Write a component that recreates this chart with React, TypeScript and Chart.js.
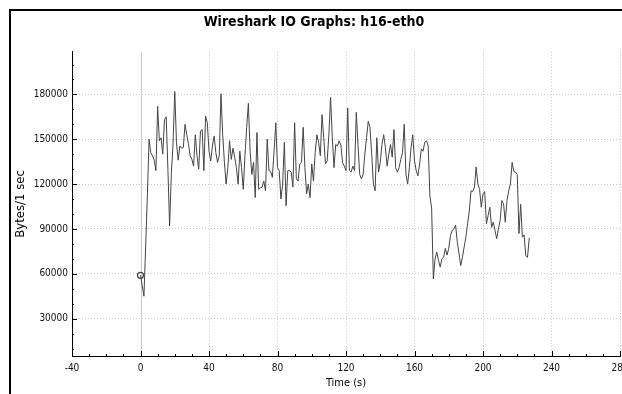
import React, { useEffect, useRef } from "react";
import { Chart, registerables } from "chart.js";

Chart.register(...registerables);

const chartTitle = "Wireshark IO Graphs: h16-eth0";
const xAxisTitle = "Time (s)";
const yAxisTitle = "Bytes/1 sec";
const xTickValues = [-40, 0, 40, 80, 120, 160, 200, 240, 280];
const yTickValues = [30000, 60000, 90000, 120000, 150000, 180000];

// Bytes per 1-second interval, starting at t = 0 s
const bytesPerSecond = [
  59000, 52000, 45000, 78000, 112000, 150000, 141000, 139000, 136000, 129000,
  172000, 149000, 151000, 140000, 163000, 165000, 130000, 92000, 127000, 147000,
  182000, 148000, 136000, 145500, 144000, 144500, 160000, 153000, 147000, 139000,
  136500, 132000, 153000, 139000, 130000, 155500, 156500, 129000, 165500, 161000,
  142000, 135500, 145500, 152000, 141000, 134500, 139000, 180500, 153000, 134500,
  120000, 131000, 149000, 136500, 144000, 138000, 131000, 120000, 142000, 131000,
  116500, 139000, 158000, 174000, 142000, 126500, 134500, 111000, 154500, 116500,
  117500, 118000, 122000, 115500, 150000, 129000, 128500, 124500, 142000, 161000,
  131000, 129000, 110000, 120000, 148000, 105500, 129000, 129000, 128000, 118000,
  161000, 123500, 122000, 133500, 134500, 158000, 131000, 113500, 120000, 111000,
  133500, 122000, 141000, 153000, 148000, 139000, 166500, 151000, 133500, 135500,
  153000, 178000, 151000, 131000, 146500, 145500, 149000, 146000, 134500, 132000,
  129000, 171000, 129000, 128000, 132000, 129000, 168000, 146500, 126500, 123500,
  126500, 140000, 151000, 162000, 158000, 140000, 120000, 115500, 151000, 128000,
  134500, 146500, 153000, 144500, 132000, 140000, 146500, 138000, 156500, 131000,
  128000, 131000, 136500, 141000, 160000, 126500, 120000, 131000, 144500, 153000,
  135500, 129000, 125500, 133500, 143500, 142000, 148000, 149000, 145500, 112000,
  104000, 56500, 70000, 74500, 69000, 64500, 70000, 71000, 77000, 72500,
  77000, 85500, 89000, 90000, 92500, 81000, 73500, 65500, 71000, 78000,
  84500, 93500, 102000, 115500, 115000, 118000, 131500, 120000, 116500, 104500,
  113500, 115000, 93500, 99000, 104500, 91000, 94500, 89000, 83500, 90000,
  95500, 109000, 107000, 94500, 109000, 115500, 120000, 134500, 128500, 128000,
  126500, 87000, 106500, 84500, 86000, 72000, 71000, 84000,
];

const X_MIN = -40;
const X_MAX = 280;
const Y_MIN = 5000;
const Y_MAX = 208500;
const X_MINOR_STEP = 10;
const Y_MINOR_STEP = 10000;

const FONT = "'DejaVu Sans Condensed', 'DejaVu Sans', sans-serif";

const axisDecor = {
  id: "axisDecor",
  beforeDatasetsDraw(chart: any) {
    const { ctx, chartArea } = chart;
    const xs = chart.scales.x;
    ctx.save();
    ctx.strokeStyle = "rgb(200,200,200)";
    ctx.lineWidth = 1;
    const px = Math.round(xs.getPixelForValue(0)) + 0.5;
    ctx.beginPath();
    ctx.moveTo(px, chartArea.top);
    ctx.lineTo(px, chartArea.bottom);
    ctx.stroke();
    ctx.restore();
  },
  afterDraw(chart: any) {
    const { ctx, chartArea } = chart;
    const xs = chart.scales.x;
    const ys = chart.scales.y;
    ctx.save();
    ctx.strokeStyle = "#000";
    ctx.lineWidth = 1;
    ctx.beginPath();
    for (let v = X_MIN; v <= X_MAX; v += X_MINOR_STEP) {
      const p = Math.round(xs.getPixelForValue(v)) + 0.5;
      const len = xTickValues.includes(v) ? 5 : 2;
      ctx.moveTo(p, chartArea.bottom);
      ctx.lineTo(p, chartArea.bottom - len);
    }
    for (let v = Y_MINOR_STEP; v <= Y_MAX; v += Y_MINOR_STEP) {
      if (v < Y_MIN) continue;
      const p = Math.round(ys.getPixelForValue(v)) + 0.5;
      const len = yTickValues.includes(v) ? 5 : 2;
      ctx.moveTo(chartArea.left, p);
      ctx.lineTo(chartArea.left + len, p);
    }
    ctx.stroke();
    ctx.restore();
  },
};

export default function App() {
  const canvasRef = useRef<HTMLCanvasElement | null>(null);

  useEffect(() => {
    const canvas = canvasRef.current;
    if (!canvas) return;
    const points = bytesPerSecond.map((v, t) => ({ x: t, y: v }));
    const chart = new Chart(canvas, {
      type: "line",
      data: {
        datasets: [
          {
            data: points,
            borderColor: "#444",
            borderWidth: 1,
            tension: 0,
            fill: false,
            pointRadius: (c: any) => (c.dataIndex === 0 ? 3 : 0),
            pointBorderColor: "#444",
            pointBackgroundColor: "rgba(255,255,255,0)",
            pointBorderWidth: 1.3,
          },
        ],
      },
      options: {
        animation: false,
        responsive: false,
        devicePixelRatio: 1,
        layout: { padding: { left: 8, right: 40, top: 0, bottom: 0 } },
        plugins: {
          legend: { display: false },
          tooltip: { enabled: false },
          title: {
            display: true,
            text: chartTitle,
            color: "#000",
            font: { family: FONT, size: 14, weight: "bold", lineHeight: 1.2 },
            padding: { top: 14, bottom: 21 },
          },
        },
        scales: {
          x: {
            type: "linear",
            min: X_MIN,
            max: X_MAX,
            afterBuildTicks: (s: any) => {
              s.ticks = xTickValues.map((v) => ({ value: v }));
            },
            afterFit: (s: any) => {
              s.height = 38;
            },
            ticks: {
              autoSkip: false,
              maxRotation: 0,
              padding: 6,
              color: "#111",
              font: { family: FONT, size: 10 },
              callback: (v: any) => String(v),
            },
            grid: {
              drawTicks: false,
              lineWidth: 1,
              color: (c: any) =>
                c.tick && (c.tick.value === 0 || c.tick.value === X_MIN)
                  ? "rgba(0,0,0,0)"
                  : "rgb(200,200,200)",
            },
            border: { display: true, color: "#000", width: 1, dash: [1, 2] },
            title: {
              display: true,
              text: xAxisTitle,
              color: "#000",
              font: { family: FONT, size: 11, lineHeight: 1.2 },
              padding: { top: 0, bottom: 4 },
            },
          },
          y: {
            type: "linear",
            min: Y_MIN,
            max: Y_MAX,
            afterBuildTicks: (s: any) => {
              s.ticks = yTickValues.map((v) => ({ value: v }));
            },
            afterFit: (s: any) => {
              s.width = 64;
            },
            ticks: {
              padding: 4,
              color: "#111",
              font: { family: FONT, size: 10 },
              callback: (v: any) => String(v),
            },
            grid: {
              drawTicks: false,
              lineWidth: 1,
              color: "rgb(200,200,200)",
            },
            border: { display: true, color: "#000", width: 1, dash: [1, 2] },
            title: {
              display: true,
              text: yAxisTitle,
              color: "#000",
              font: { family: FONT, size: 13, lineHeight: 1.2 },
              padding: { top: 5, bottom: 0 },
            },
          },
        },
      } as any,
      plugins: [axisDecor],
    });
    return () => chart.destroy();
  }, []);

  return (
    <div
      style={{
        position: "fixed",
        left: 0,
        top: 0,
        width: 622,
        height: 394,
        overflow: "hidden",
        background: "#fff",
      }}
    >
      <div
        style={{
          position: "absolute",
          left: 9,
          top: 9,
          width: 700,
          height: 500,
          borderTop: "2px solid #000",
          borderLeft: "2px solid #000",
        }}
      />
      <canvas
        ref={canvasRef}
        width={660}
        height={394}
        style={{ position: "absolute", left: 0, top: 0, width: 660, height: 394 }}
      />
    </div>
  );
}
